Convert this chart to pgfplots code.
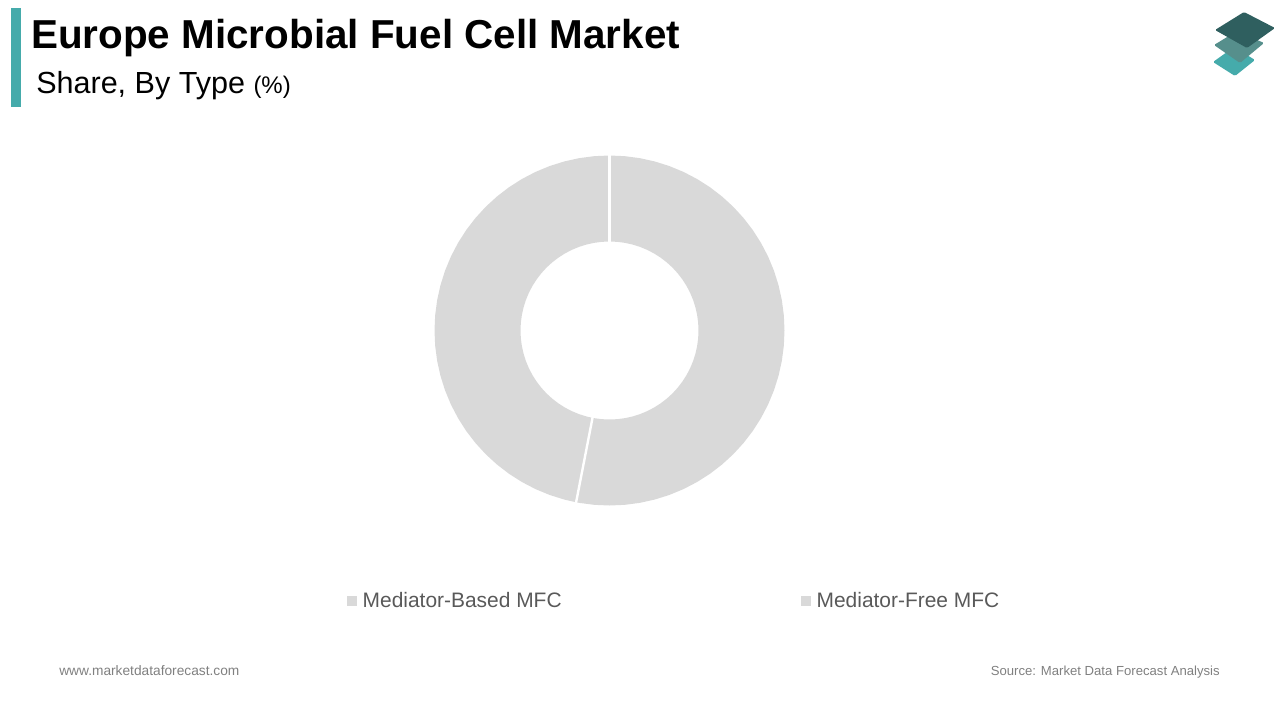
\documentclass[border=0pt]{standalone}
\usepackage{pgfplots}
\pgfplotsset{compat=1.18}
\usepgfplotslibrary{polar}
\usepackage{fontspec}
\setmainfont{Liberation Sans}
\definecolor{slice}{HTML}{D9D9D9}
\definecolor{teal1}{HTML}{45ABAB}
\definecolor{teal2}{HTML}{568F8C}
\definecolor{teal3}{HTML}{2F5F5F}
\definecolor{legtext}{HTML}{595959}
\definecolor{foot}{HTML}{808080}
\begin{document}
\begin{tikzpicture}[x=0.75pt,y=-0.75pt]
\path[use as bounding box] (0,0) rectangle (1280,720);
\fill[teal1] (11,8) rectangle (21,107);
\node[anchor=base west,inner sep=0,font=\fontsize{30.3pt}{34pt}\selectfont\bfseries] at (31,49) {Europe Microbial Fuel Cell Market};
\node[anchor=base west,inner sep=0,font=\fontsize{22.9pt}{28pt}\selectfont] at (36,94) {Share, By Type {\fontsize{18pt}{22pt}\selectfont(\%)}};
\node[anchor=base west,inner sep=0,font=\fontsize{10.3pt}{12pt}\selectfont,text=foot] at (59,675) {www.marketdataforecast.com};
\node[anchor=base east,inner sep=0,font=\fontsize{9.85pt}{12pt}\selectfont,text=foot] at (1220,675) {Source: Market Data Forecast Analysis};
% logo
\fill[teal1,rounded corners=1pt] (1213,62) -- (1234,47) -- (1255,60) -- (1235,76) -- cycle;
\fill[teal2,rounded corners=1pt] (1214,45) -- (1237,31) -- (1264,43) -- (1240,63) -- cycle;
\fill[teal3,rounded corners=1pt] (1215,30) -- (1244,12) -- (1275,28) -- (1247,48) -- cycle;
\begin{polaraxis}[
  at={(457.125pt,-247.875pt)},anchor=center,
  scale only axis,width=300pt,height=300pt,
  xmin=0,xmax=360,ymin=0,ymax=200,
  axis lines=none,clip=false,
  legend columns=2,
  legend cell align=left,
  legend image code/.code={\fill[slice] (0pt,-3.75pt) rectangle (7.5pt,3.75pt);\path (9.75pt,0pt);},
  legend style={draw=none,fill=none,at={(0.6625,-0.176)},anchor=center,
    font=\fontsize{15.7pt}{20pt}\selectfont\color{legtext},
    /tikz/every even column/.append style={column sep=177.5pt}},
]
% Mediator-Based MFC: 53 %
\addplot[fill=slice,draw=none] coordinates {
(90,175)(85,175)(80,175)(75,175)(70,175)(65,175)(60,175)(55,175)(50,175)(45,175)(40,175)(35,175)(30,175)(25,175)(20,175)(15,175)(10,175)(5,175)(0,175)(-5,175)(-10,175)(-15,175)(-20,175)(-25,175)(-30,175)(-35,175)(-40,175)(-45,175)(-50,175)(-55,175)(-60,175)(-65,175)(-70,175)(-75,175)(-80,175)(-85,175)(-90,175)(-95,175)(-100,175)(-101,175)
(-101,89)(-100,89)(-95,89)(-90,89)(-85,89)(-80,89)(-75,89)(-70,89)(-65,89)(-60,89)(-55,89)(-50,89)(-45,89)(-40,89)(-35,89)(-30,89)(-25,89)(-20,89)(-15,89)(-10,89)(-5,89)(0,89)(5,89)(10,89)(15,89)(20,89)(25,89)(30,89)(35,89)(40,89)(45,89)(50,89)(55,89)(60,89)(65,89)(70,89)(75,89)(80,89)(85,89)(90,89)};
\addlegendentry{Mediator-Based MFC}
% Mediator-Free MFC: 47 %
\addplot[fill=slice,draw=none] coordinates {
(-101,175)(-105,175)(-110,175)(-115,175)(-120,175)(-125,175)(-130,175)(-135,175)(-140,175)(-145,175)(-150,175)(-155,175)(-160,175)(-165,175)(-170,175)(-175,175)(-180,175)(-185,175)(-190,175)(-195,175)(-200,175)(-205,175)(-210,175)(-215,175)(-220,175)(-225,175)(-230,175)(-235,175)(-240,175)(-245,175)(-250,175)(-255,175)(-260,175)(-265,175)(-270,175)
(-270,89)(-265,89)(-260,89)(-255,89)(-250,89)(-245,89)(-240,89)(-235,89)(-230,89)(-225,89)(-220,89)(-215,89)(-210,89)(-205,89)(-200,89)(-195,89)(-190,89)(-185,89)(-180,89)(-175,89)(-170,89)(-165,89)(-160,89)(-155,89)(-150,89)(-145,89)(-140,89)(-135,89)(-130,89)(-125,89)(-120,89)(-115,89)(-110,89)(-105,89)(-101,89)};
\addlegendentry{Mediator-Free MFC}
\addplot[forget plot,white,line width=1.8pt] coordinates {(90,86)(90,178)};
\addplot[forget plot,white,line width=1.8pt] coordinates {(-101,86)(-101,178)};
\end{polaraxis}
\end{tikzpicture}
\end{document}
